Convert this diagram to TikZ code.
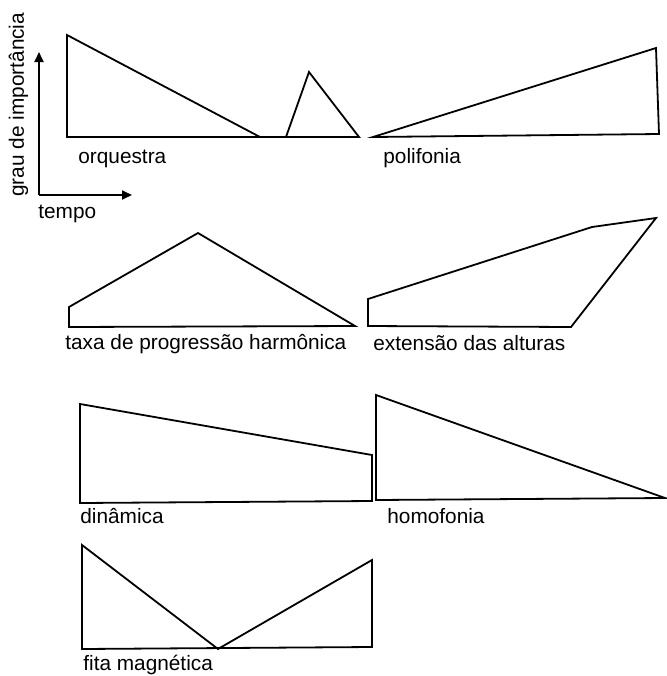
\documentclass[tikz,border=0pt]{standalone}
\usepackage{fontspec}
\setmainfont{Liberation Sans}
\usepackage{tikz}
\usetikzlibrary{arrows.meta}

\begin{document}
\begin{tikzpicture}[x=0.5pt, y=-0.5pt,
    envelope/.style={draw, line width=0.9pt, line join=miter},
    axisline/.style={line width=0.9pt, -{Triangle[length=5pt, width=4.5pt]}},
    lbl/.style={anchor=base west, inner sep=0pt, font=\fontsize{10.4}{12}\selectfont}
]
\useasboundingbox (0,0) rectangle (667,676);

% axes
\coordinate (origin) at (39,195);
\coordinate (yend) at (39,52);
\coordinate (xend) at (132,195);
\draw[axisline] (origin) -- (yend);
\draw[axisline] (origin) -- (xend);
\node[lbl, rotate=90] (yaxis) at (24,197) {grau de importância};
\node[lbl] (xaxis) at (38,218) {tempo};

% orquestra
\draw[envelope] (67,35) -- (260,137) -- (67,137) -- cycle;
\draw[envelope] (260,137) -- (286,137) -- (309,72) -- (359,137) -- (286,137);
\node[lbl] (orquestra) at (78,163) {orquestra};

% polifonia
\draw[envelope] (373,137) -- (656,48) -- (659,134) -- cycle;
\node[lbl] (polifonia) at (383,163) {polifonia};

% taxa de progressao harmonica
\draw[envelope] (69,327) -- (69,307) -- (198,233) -- (355,326) -- cycle;
\node[lbl] (taxa) at (65,349) {taxa de progressão harmônica};

% extensao das alturas
\draw[envelope] (368,326) -- (368,299) -- (592,227) -- (656,218) -- (571,327) -- cycle;
\node[lbl] (extensao) at (373,350) {extensão das alturas};

% dinamica
\draw[envelope] (80,404) -- (372,455) -- (372,501) -- (80,503) -- cycle;
\node[lbl] (dinamica) at (80,523) {dinâmica};

% homofonia
\draw[envelope] (376,395) -- (665,498) -- (376,500) -- cycle;
\node[lbl] (homofonia) at (387,523) {homofonia};

% fita magnetica
\draw[envelope] (82,545) -- (218,649) -- (372,560) -- (372,647) -- (82,649) -- cycle;
\node[lbl] (fita) at (83,670) {fita magnética};
\end{tikzpicture}
\end{document}
